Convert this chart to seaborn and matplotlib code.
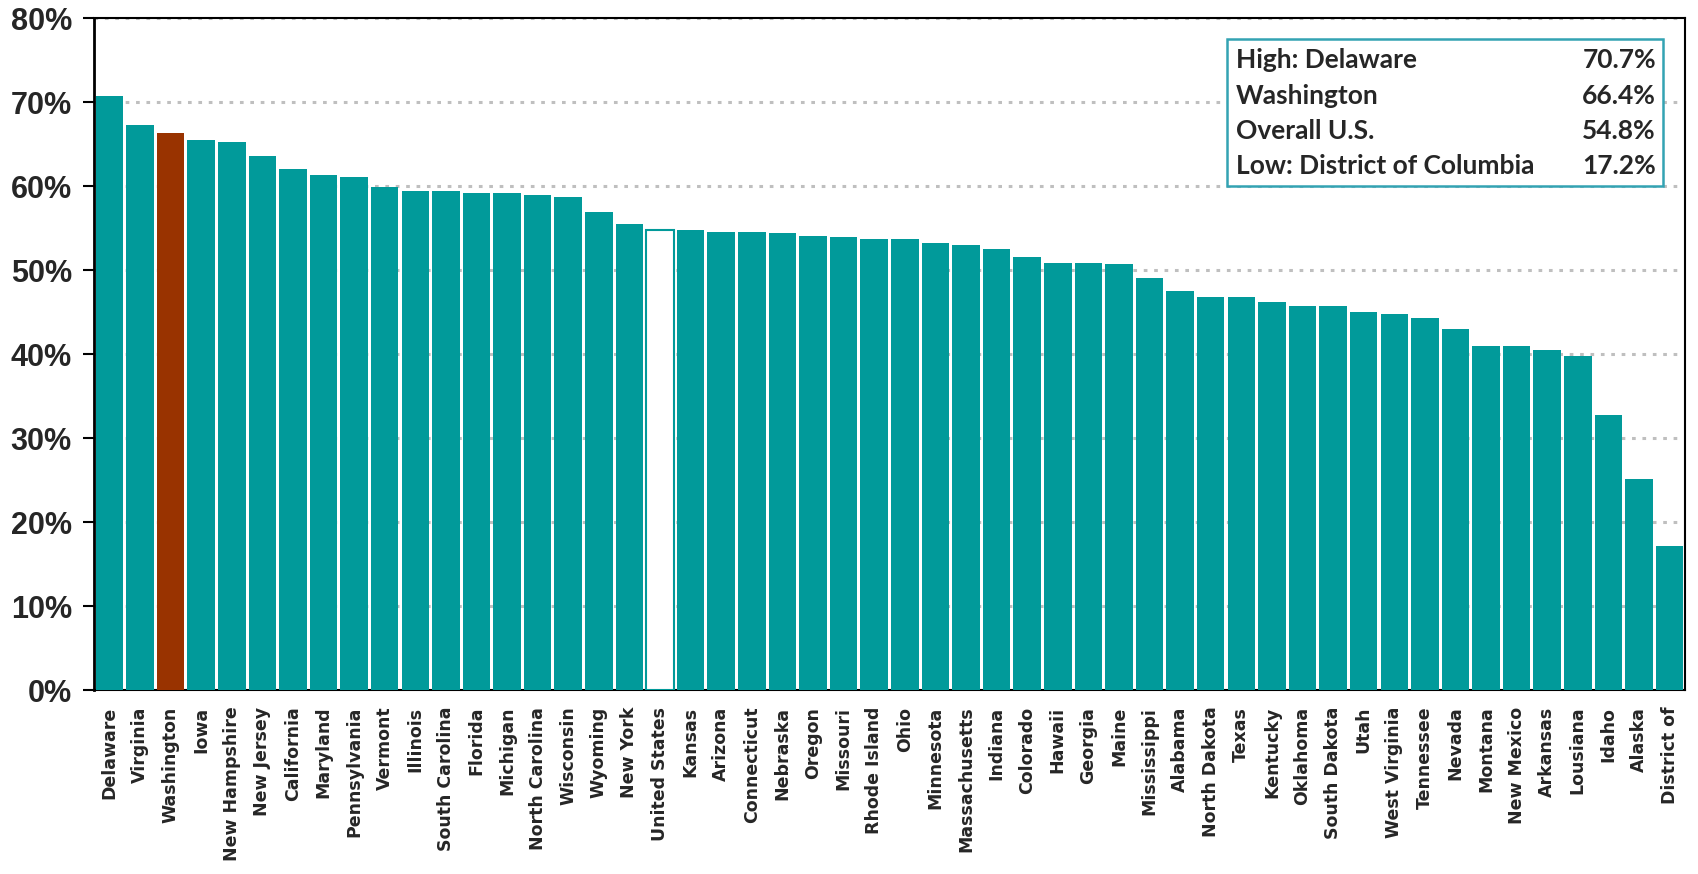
import matplotlib
matplotlib.use("Agg")
import matplotlib.pyplot as plt
import seaborn as sns
import pandas as pd
from matplotlib import font_manager
from matplotlib.patches import Rectangle

states = ["Delaware", "Virginia", "Washington", "Iowa", "New Hampshire", "New Jersey",
          "California", "Maryland", "Pennsylvania", "Vermont", "Illinois", "South Carolina",
          "Florida", "Michigan", "North Carolina", "Wisconsin", "Wyoming", "New York",
          "United States", "Kansas", "Arizona", "Connecticut", "Nebraska", "Oregon",
          "Missouri", "Rhode Island", "Ohio", "Minnesota", "Massachusetts", "Indiana",
          "Colorado", "Hawaii", "Georgia", "Maine", "Mississippi", "Alabama",
          "North Dakota", "Texas", "Kentucky", "Oklahoma", "South Dakota", "Utah",
          "West Virginia", "Tennessee", "Nevada", "Montana", "New Mexico", "Arkansas",
          "Lousiana", "Idaho", "Alaska", "District of"]
values = [70.7, 67.3, 66.4, 65.5, 65.3, 63.6,
          62.1, 61.4, 61.1, 59.9, 59.4, 59.4,
          59.2, 59.2, 59.0, 58.7, 56.9, 55.5,
          54.8, 54.8, 54.6, 54.6, 54.4, 54.1,
          53.9, 53.7, 53.7, 53.2, 53.0, 52.5,
          51.6, 50.9, 50.9, 50.7, 49.1, 47.5,
          46.8, 46.8, 46.2, 45.7, 45.7, 45.0,
          44.8, 44.3, 43.0, 41.0, 41.0, 40.5,
          39.8, 32.8, 25.1, 17.2]
yticks = [0, 10, 20, 30, 40, 50, 60, 70, 80]
box_labels = ["High: Delaware", "Washington", "Overall U.S.", "Low: District of Columbia"]
box_values = ["70.7%", "66.4%", "54.8%", "17.2%"]

TEAL = "#019A9A"
RUST = "#993300"
BOXEDGE = "#33A3B3"

installed = {f.name for f in font_manager.fontManager.ttflist}
narrow = "Liberation Sans Narrow" if "Liberation Sans Narrow" in installed else "Liberation Sans"

sns.set_theme(style="white")
plt.rcParams["font.family"] = ["DejaVu Sans"]

df = pd.DataFrame({"state": states, "value": values})
palette = {s: (RUST if s == "Washington" else ("#FFFFFF" if s == "United States" else TEAL)) for s in states}

fig = plt.figure(figsize=(16.98, 8.74), dpi=100)
ax = fig.add_axes([0.0554, 0.2105, 0.9369, 0.7685])

sns.barplot(data=df, x="state", y="value", hue="state", palette=palette, legend=False,
            width=0.9, saturation=1, ax=ax, zorder=3)

for patch, s in zip(ax.patches, states):
    patch.set_linewidth(0)
    if s == "United States":
        patch.set_edgecolor(TEAL)
        patch.set_linewidth(1.5)

ax.set_xlim(-0.5, len(states) - 0.5)
ax.set_ylim(0, 80)
ax.set_yticks(yticks)
ax.set_yticklabels([f"{t}%" for t in yticks], fontsize=22, fontweight="bold", family=narrow)
ax.set_xticks(range(len(states)))
ax.set_xticklabels(states, rotation=90, fontsize=12.5, fontweight="bold", family="DejaVu Sans")
ax.set_xlabel("")
ax.set_ylabel("")

for t in yticks[1:]:
    ax.axhline(t, color="#BFBFBF", linestyle=(0, (1.2, 2.2)), linewidth=2.2, zorder=1)

for side in ["top", "right", "bottom", "left"]:
    ax.spines[side].set_visible(True)
    ax.spines[side].set_color("black")
    ax.spines[side].set_linewidth(1.5)
ax.spines["left"].set_linewidth(2)

ax.tick_params(axis="y", which="both", left=True, length=8, width=1.5, color="black", pad=8)
ax.tick_params(axis="x", which="both", bottom=False, pad=6)

# summary box
bx0, by0, bx1, by1 = 1227 / 1698, 1 - 186 / 874, 1663 / 1698, 1 - 39 / 874
fig.patches.append(Rectangle((bx0, by0), bx1 - bx0, by1 - by0, transform=fig.transFigure,
                             facecolor="white", edgecolor=BOXEDGE, linewidth=1.8, zorder=5))
rows_y = [60, 96, 131, 166]
for lab, val, ry in zip(box_labels, box_values, rows_y):
    fig.text(1236 / 1698, 1 - ry / 874, lab, ha="left", va="center", fontsize=19,
             fontweight="bold", family="Lato", zorder=6)
    fig.text(1656 / 1698, 1 - ry / 874, val, ha="right", va="center", fontsize=19,
             fontweight="bold", family="Lato", zorder=6)

fig.savefig("out.png", dpi=100, facecolor="white")
